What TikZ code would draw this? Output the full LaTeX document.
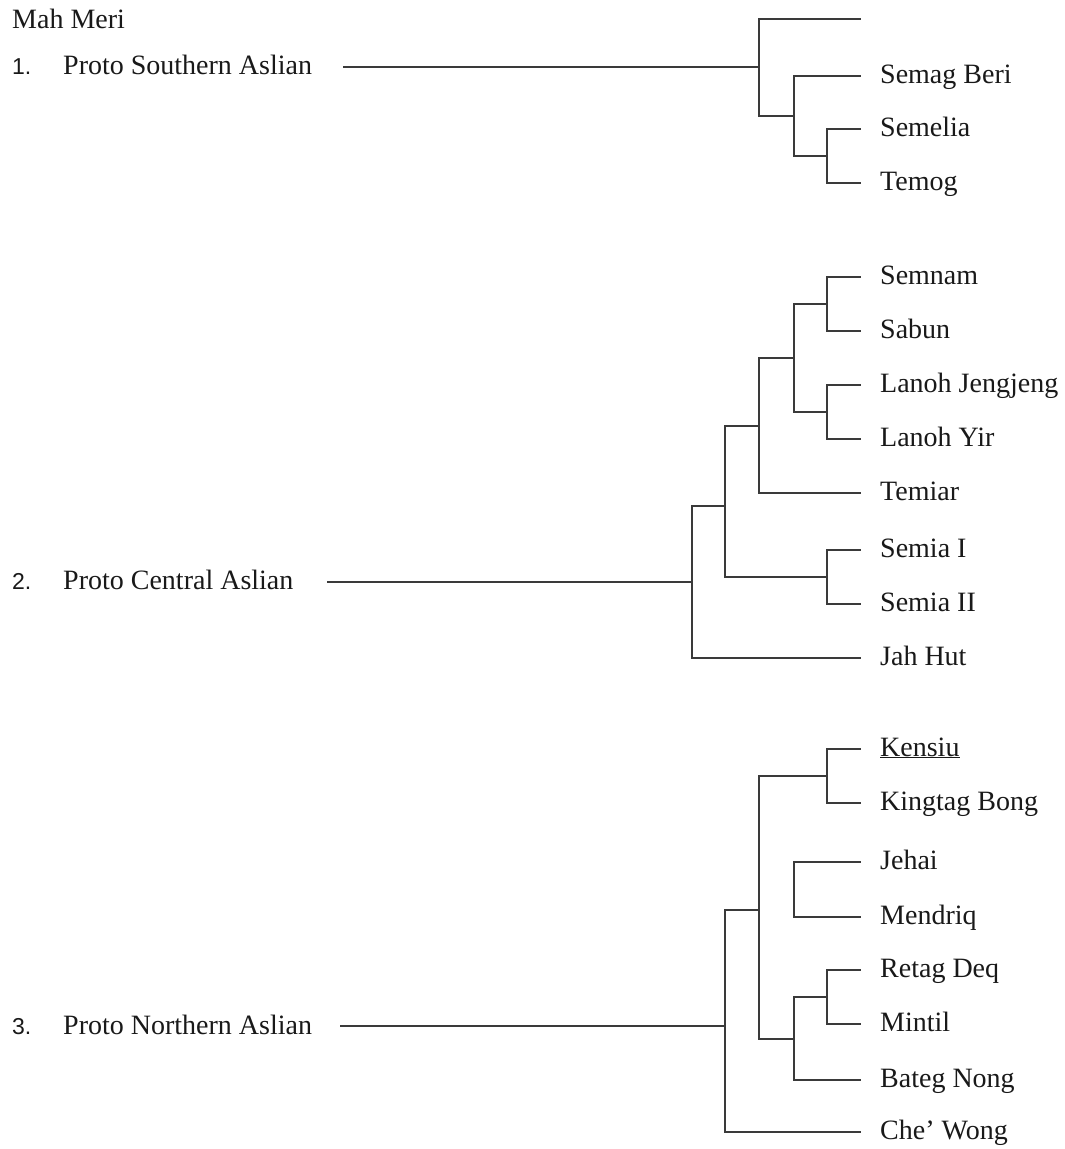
\documentclass[tikz,border=0pt]{standalone}
\usepackage{fontspec}
\setmainfont{Liberation Serif}
\newfontfamily\numfont{Liberation Sans}
\definecolor{treeline}{HTML}{3A3A3A}
\begin{document}
\begin{tikzpicture}[x=1pt,y=-1pt,
  txt/.style={anchor=base west,inner sep=0pt,font=\fontsize{28}{32}\selectfont,text=black!90},
  num/.style={anchor=base west,inner sep=0pt,font=\numfont\fontsize{23}{28}\selectfont,text=black!90},
  br/.style={draw=treeline,line width=1.3pt,line join=miter}]
\useasboundingbox (0,0) rectangle (1065,1149);

% ---------- left labels ----------
\node[txt] (mah) at (12,28) {Mah Meri};
\node[num] (n1) at (12,74) {1.};
\node[txt] (p1) at (63,74) {Proto Southern Aslian};
\node[num] (n2) at (12,589) {2.};
\node[txt] (p2) at (63,589) {Proto Central Aslian};
\node[num] (n3) at (12,1034) {3.};
\node[txt] (p3) at (63,1034) {Proto Northern Aslian};

\coordinate (s-start) at (343,67);
\coordinate (c-start) at (327,582);
\coordinate (n-start) at (340,1026);

% ---------- Southern ----------
\coordinate (s-root) at (759,67);
\coordinate (s-b) at (794,116);
\coordinate (s-c) at (827,156);
\coordinate (t-top) at (861,19);
\coordinate (t-semag) at (861,76);
\coordinate (t-semelia) at (861,129);
\coordinate (t-temog) at (861,183);
\node[txt] (l-semag) at (880,83) {Semag Beri};
\node[txt] (l-semelia) at (880,136) {Semelia};
\node[txt] (l-temog) at (880,190) {Temog};

\draw[br] (s-start) -- (s-root);
\draw[br] (s-root) |- (t-top);
\draw[br] (s-root) |- (s-b);
\draw[br] (s-b) |- (t-semag);
\draw[br] (s-b) |- (s-c);
\draw[br] (s-c) |- (t-semelia);
\draw[br] (s-c) |- (t-temog);

% ---------- Central ----------
\coordinate (c-root) at (692,582);
\coordinate (c-n6) at (725,506);
\coordinate (c-n4) at (759,426);
\coordinate (c-n3) at (794,358);
\coordinate (c-n1) at (827,304);
\coordinate (c-n2) at (827,412);
\coordinate (c-n5) at (827,577);
\coordinate (t-semnam) at (861,277);
\coordinate (t-sabun) at (861,331);
\coordinate (t-lj) at (861,385);
\coordinate (t-ly) at (861,439);
\coordinate (t-temiar) at (861,493);
\coordinate (t-semia1) at (861,550);
\coordinate (t-semia2) at (861,604);
\coordinate (t-jahhut) at (861,658);
\node[txt] (l-semnam) at (880,284) {Semnam};
\node[txt] (l-sabun) at (880,338) {Sabun};
\node[txt] (l-lj) at (880,392) {Lanoh Jengjeng};
\node[txt] (l-ly) at (880,446) {Lanoh Yir};
\node[txt] (l-temiar) at (880,500) {Temiar};
\node[txt] (l-semia1) at (880,557) {Semia I};
\node[txt] (l-semia2) at (880,611) {Semia II};
\node[txt] (l-jahhut) at (880,665) {Jah Hut};

\draw[br] (c-start) -- (c-root);
\draw[br] (c-root) |- (c-n6);
\draw[br] (c-root) |- (t-jahhut);
\draw[br] (c-n6) |- (c-n4);
\draw[br] (c-n6) |- (c-n5);
\draw[br] (c-n4) |- (c-n3);
\draw[br] (c-n4) |- (t-temiar);
\draw[br] (c-n3) |- (c-n1);
\draw[br] (c-n3) |- (c-n2);
\draw[br] (c-n1) |- (t-semnam);
\draw[br] (c-n1) |- (t-sabun);
\draw[br] (c-n2) |- (t-lj);
\draw[br] (c-n2) |- (t-ly);
\draw[br] (c-n5) |- (t-semia1);
\draw[br] (c-n5) |- (t-semia2);

% ---------- Northern ----------
\coordinate (n-root) at (725,1026);
\coordinate (n-m) at (759,910);
\coordinate (n-k) at (827,776);
\coordinate (n-j) at (794,889);
\coordinate (n-b) at (794,1039);
\coordinate (n-r) at (827,997);
\coordinate (t-kensiu) at (861,749);
\coordinate (t-kingtag) at (861,803);
\coordinate (t-jehai) at (861,862);
\coordinate (t-mendriq) at (861,917);
\coordinate (t-retag) at (861,970);
\coordinate (t-mintil) at (861,1024);
\coordinate (t-bateg) at (861,1080);
\coordinate (t-chewong) at (861,1132);
\node[txt] (l-kensiu) at (880,756) {\underline{Kensiu}};
\node[txt] (l-kingtag) at (880,810) {Kingtag Bong};
\node[txt] (l-jehai) at (880,869) {Jehai};
\node[txt] (l-mendriq) at (880,924) {Mendriq};
\node[txt] (l-retag) at (880,977) {Retag Deq};
\node[txt] (l-mintil) at (880,1031) {Mintil};
\node[txt] (l-bateg) at (880,1087) {Bateg Nong};
\node[txt] (l-chewong) at (880,1139) {Che’ Wong};

\draw[br] (n-start) -- (n-root);
\draw[br] (n-root) |- (n-m);
\draw[br] (n-root) |- (t-chewong);
\draw[br] (n-m) |- (n-k);
\draw[br] (n-m) |- (n-b);
\draw[br] (n-k) |- (t-kensiu);
\draw[br] (n-k) |- (t-kingtag);
\draw[br] (n-j) |- (t-jehai);
\draw[br] (n-j) |- (t-mendriq);
\draw[br] (n-b) |- (n-r);
\draw[br] (n-b) |- (t-bateg);
\draw[br] (n-r) |- (t-retag);
\draw[br] (n-r) |- (t-mintil);
\end{tikzpicture}
\end{document}
